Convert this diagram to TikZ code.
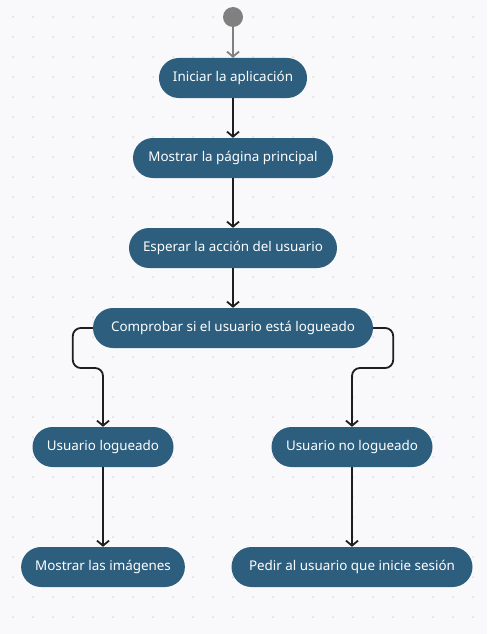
\documentclass[tikz,border=0pt]{standalone}
\usepackage{fontspec}
\setmainfont{Noto Sans}
\usetikzlibrary{arrows.meta}
\definecolor{bgc}{HTML}{F9F9FC}
\definecolor{dotc}{HTML}{D9D9E0}
\definecolor{boxc}{HTML}{2D5E7E}
\definecolor{linec}{HTML}{1E1E1E}
\definecolor{startc}{HTML}{808080}
\tikzset{
  act/.style={rectangle, rounded corners=20pt, fill=boxc, text=white, minimum height=40pt, inner xsep=14pt, font=\fontsize{13.4}{15}\selectfont, anchor=center},
  flow/.style={draw=linec, line width=1.8pt, -{Straight Barb[length=5pt,width=12pt,line width=1.8pt]}},
  startflow/.style={draw=startc, line width=1.8pt, -{Straight Barb[length=5pt,width=12pt,line width=1.8pt]}},
}
\begin{document}
\begin{tikzpicture}[x=1pt,y=-1pt]
\useasboundingbox (0,0) rectangle (487,634);
\fill[bgc] (0,0) rectangle (487,634);
\foreach \i in {0,...,23} {\foreach \j in {0,...,31} {\fill[dotc] (13+20*\i,17+20*\j) circle (1pt);}}
\node[circle, fill=startc, minimum size=20pt, inner sep=0pt] (s) at (233,17) {};
\node[act, minimum width=142pt] (n1) at (233,78) {Iniciar la aplicación};
\node[act, minimum width=200pt] (n2) at (233,158) {Mostrar la página principal};
\node[act, minimum width=202pt] (n3) at (233,248) {Esperar la acción del usuario};
\node[act, minimum width=280pt] (n4) at (233,328) {Comprobar si el usuario está logueado};
\node[act, minimum width=141pt] (n5) at (103,447) {Usuario logueado};
\node[act, minimum width=161pt] (n6) at (352,447) {Usuario no logueado};
\node[act, minimum width=161pt] (n7) at (103,567) {Mostrar las imágenes};
\node[act, minimum width=241pt] (n8) at (352,567) {Pedir al usuario que inicie sesión};
\draw[startflow] (s) -- (n1);
\draw[flow] (n1) -- (n2);
\draw[flow] (n2) -- (n3);
\draw[flow] (n3) -- (n4);
\draw[flow, rounded corners=8pt] (n4.west) -- ++(-20,0) -- ++(0,40) -- (n5.north |- 0,368) -- (n5.north);
\draw[flow, rounded corners=8pt] (n4.east) -- ++(20,0) -- ++(0,40) -- (n6.north |- 0,368) -- (n6.north);
\draw[flow] (n5) -- (n7);
\draw[flow] (n6) -- (n8);
\end{tikzpicture}
\end{document}
